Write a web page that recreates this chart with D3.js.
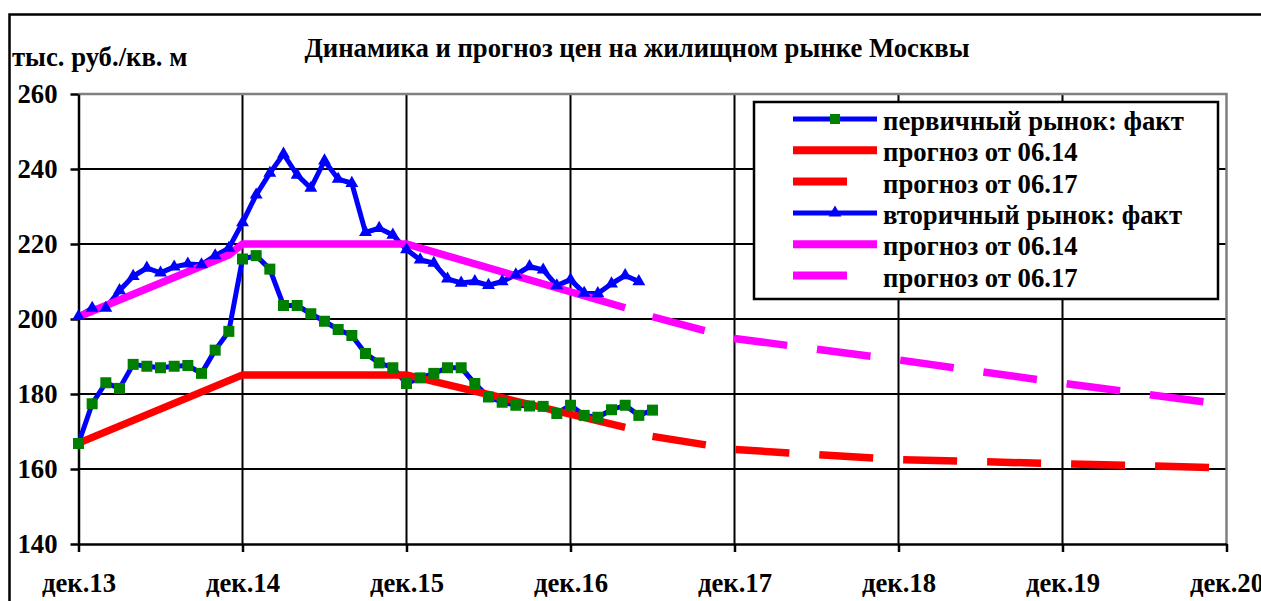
<!DOCTYPE html>
<html><head><meta charset="utf-8">
<script src="https://cdn.jsdelivr.net/npm/d3@7"></script>
<style>
body{margin:0;background:#fff}
svg{display:block}
</style>
</head><body>
<svg id="c" width="1261" height="601"></svg>
<script>
// ---- data ----
const chartTitle = "Динамика и прогноз цен на жилищном рынке Москвы";
const unitLabel = "тыс. руб./кв. м";
const xTickLabels = ["дек.13","дек.14","дек.15","дек.16","дек.17","дек.18","дек.19","дек.20"];
const xTickDates = ["2013-12","2014-12","2015-12","2016-12","2017-12","2018-12","2019-12","2020-12"];
const yTicks = [140,160,180,200,220,240,260];
const factStart = "2013-12";
// первичный рынок: факт (monthly from дек.13)
const primaryFact = [166.8,177.4,183.0,181.5,187.9,187.4,187.0,187.4,187.6,185.5,191.7,196.7,
  216.0,216.9,213.3,203.6,203.6,201.4,199.4,197.2,195.6,190.8,188.3,187.0,
  182.8,184.3,185.5,187.0,187.0,182.8,179.2,177.8,177.0,176.8,176.7,174.8,
  177.0,174.3,173.8,175.8,177.0,174.3,175.7];
// вторичный рынок: факт (monthly from дек.13)
const secondaryFact = [200.7,202.9,202.9,207.6,211.4,213.6,212.3,213.9,214.7,214.5,216.9,218.9,
  225.7,233.1,238.9,244.0,238.4,234.9,242.2,237.3,236.2,223.1,224.2,222.4,
  218.5,215.8,214.9,210.7,209.6,210.0,209.0,210.0,211.8,214.0,213.1,208.9,
  210.5,206.9,206.8,209.4,211.6,210.0];
const primaryForecast0614Dates = ["2013-12","2014-12","2015-12","2017-04"];
const primaryForecast0614 = [166.9,185.1,185.1,171.1];
const primaryForecast0617Dates = ["2017-06","2017-12","2018-12","2019-12","2020-12"];
const primaryForecast0617 = [168.7,165.2,162.5,161.4,160.3];
const secondaryForecast0614Dates = ["2013-12","2014-11","2014-12","2015-12","2017-04"];
const secondaryForecast0614 = [200.6,217.1,220.0,220.0,203.0];
const secondaryForecast0617Dates = ["2017-06","2017-12","2018-12","2019-12","2020-12"];
const secondaryForecast0617 = [200.6,194.8,189.1,182.9,177.1];
const legendLabels = ["первичный рынок: факт","прогноз от 06.14","прогноз от 06.17",
  "вторичный рынок: факт","прогноз от 06.14","прогноз от 06.17"];

// ---- helpers ----
const FONT = "'Liberation Serif','Times New Roman','DejaVu Serif',serif";
const FS = 26.7;
const monthIdx = s => { const [yy,mm] = s.split("-").map(Number); return (yy-2013)*12 + (mm-12); };
const f0 = monthIdx(factStart);
const txt = (sel,size) => sel.attr("font-family",FONT).attr("font-weight","bold").attr("font-size",size).attr("fill","#000");

const svg = d3.select("#c");
svg.append("rect").attr("width",1261).attr("height",601).attr("fill","#fff");

const x = d3.scaleLinear().domain([monthIdx(xTickDates[0]), monthIdx(xTickDates[xTickDates.length-1])]).range([78.5,1226.5]);
const y = d3.scaleLinear().domain([140,260]).range([544,94]);

// outer frame
svg.append("path").attr("d","M9.5,601V14.5H1261").attr("fill","none").attr("stroke","#000").attr("stroke-width",2.5);

// title & unit
txt(svg.append("text").attr("x",637).attr("y",57).attr("text-anchor","middle"),FS).text(chartTitle);
txt(svg.append("text").attr("x",12).attr("y",66),FS).text(unitLabel);

// grid
const g = svg.append("g");
g.selectAll("line.h").data(yTicks.slice(1,-1)).join("line")
  .attr("x1",x.range()[0]).attr("x2",x.range()[1]).attr("y1",d=>y(d)).attr("y2",d=>y(d))
  .attr("stroke","#000").attr("stroke-width",2);
g.selectAll("line.v").data(xTickDates.slice(1,-1)).join("line")
  .attr("y1",y(260)).attr("y2",y(140)).attr("x1",d=>x(monthIdx(d))).attr("x2",d=>x(monthIdx(d)))
  .attr("stroke","#000").attr("stroke-width",2);
g.append("path").attr("d",`M${x.range()[0]},${y(260)}H${x.range()[1]}V${y(140)}`)
  .attr("fill","none").attr("stroke","#808080").attr("stroke-width",2.5);

// axes
const ax = svg.append("g").attr("transform",`translate(0,${y(140)})`)
  .call(d3.axisBottom(x).tickValues(xTickDates.map(monthIdx)).tickFormat((d,i)=>xTickLabels[i]).tickSize(8).tickSizeOuter(0).tickPadding(21));
const ay = svg.append("g").attr("transform",`translate(${x.range()[0]},0)`)
  .call(d3.axisLeft(y).tickValues(yTicks).tickSize(8).tickSizeOuter(0).tickPadding(13));
[ax,ay].forEach(a=>{
  a.attr("font-family",FONT).attr("font-size",FS).attr("font-weight","bold");
  a.select(".domain").attr("stroke","#000").attr("stroke-width",2.5);
  a.selectAll(".tick line").attr("stroke","#000").attr("stroke-width",2.5);
  txt(a.selectAll("text"),FS);
});

// lines
const line = d3.line().x(d=>x(d[0])).y(d=>y(d[1]));
const factPts = arr => arr.map((v,i)=>[f0+i, v]);
const fcPts = (dates, vals) => dates.map((d,i)=>[monthIdx(d), vals[i]]);

const plot = svg.append("g");
plot.append("path").attr("d",line(factPts(primaryFact))).attr("fill","none").attr("stroke","#0000ff").attr("stroke-width",5).attr("stroke-linejoin","round");
plot.append("path").attr("d",line(fcPts(primaryForecast0614Dates,primaryForecast0614))).attr("fill","none").attr("stroke","#ff0000").attr("stroke-width",7.5);
plot.append("path").attr("d",line(fcPts(primaryForecast0617Dates,primaryForecast0617))).attr("fill","none").attr("stroke","#ff0000").attr("stroke-width",7.5).attr("stroke-dasharray","54,30");
plot.append("path").attr("d",line(factPts(secondaryFact))).attr("fill","none").attr("stroke","#0000ff").attr("stroke-width",5).attr("stroke-linejoin","round");
plot.append("path").attr("d",line(fcPts(secondaryForecast0614Dates,secondaryForecast0614))).attr("fill","none").attr("stroke","#ff00ff").attr("stroke-width",7.5);
plot.append("path").attr("d",line(fcPts(secondaryForecast0617Dates,secondaryForecast0617))).attr("fill","none").attr("stroke","#ff00ff").attr("stroke-width",7.5).attr("stroke-dasharray","54,30");

// markers
const tri = d3.symbol().type(d3.symbolTriangle).size(72);
plot.selectAll("rect.pm").data(factPts(primaryFact)).join("rect")
  .attr("x",d=>x(d[0])-5.5).attr("y",d=>y(d[1])-5.5).attr("width",11).attr("height",11).attr("fill","#008000");
plot.selectAll("path.sm").data(factPts(secondaryFact)).join("path")
  .attr("d",tri).attr("transform",d=>`translate(${x(d[0])},${y(d[1])})`).attr("fill","#0000ff");

// legend
const lg = svg.append("g");
lg.append("rect").attr("x",754).attr("y",102).attr("width",464).attr("height",197).attr("fill","#fff").attr("stroke","#000").attr("stroke-width",2.5);
const legendStyles = [
  {c:"#0000ff",w:5,dash:false,m:"sq"},
  {c:"#ff0000",w:8,dash:false},
  {c:"#ff0000",w:8,dash:true},
  {c:"#0000ff",w:5,dash:false,m:"tri"},
  {c:"#ff00ff",w:8,dash:false},
  {c:"#ff00ff",w:8,dash:true}
];
legendLabels.forEach((t,i)=>{
  const yy = 119 + i*31.3;
  const st = legendStyles[i];
  lg.append("line").attr("x1",793).attr("x2",st.dash?847:877).attr("y1",yy).attr("y2",yy).attr("stroke",st.c).attr("stroke-width",st.w);
  if(st.m==="sq") lg.append("rect").attr("x",835-5).attr("y",yy-5).attr("width",10).attr("height",10).attr("fill","#008000");
  if(st.m==="tri") lg.append("path").attr("d",tri).attr("transform",`translate(835,${yy})`).attr("fill","#0000ff");
  txt(lg.append("text").attr("x",883).attr("y",yy+11),FS).text(t);
});
</script>
</body></html>
